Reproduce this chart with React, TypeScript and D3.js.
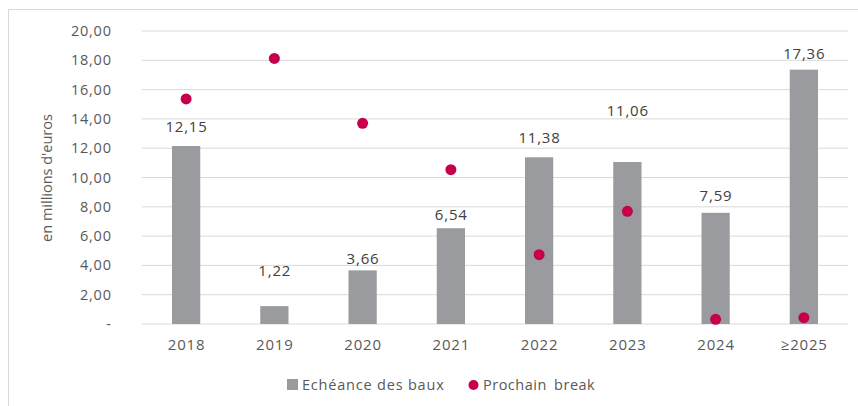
import React from 'react';
import * as d3 from 'd3';

// values
const years = ['2018', '2019', '2020', '2021', '2022', '2023', '2024', '≥2025'];
const echeance = [12.15, 1.22, 3.66, 6.54, 11.38, 11.06, 7.59, 17.36];
const prochainBreak = [15.36, 18.13, 13.7, 10.53, 4.73, 7.69, 0.32, 0.43];
// vertical level (in data units) where each bar label sits
const labelLevels = [13.45, 3.64, 4.46, 7.44, 12.68, 14.56, 8.76, 18.43];
const yTicks = [0, 2, 4, 6, 8, 10, 12, 14, 16, 18, 20];

const W = 858;
const H = 406;
const margin = { top: 31, right: 10, bottom: 82, left: 142 };
const font = "'Open Sans', 'Liberation Sans', sans-serif";
const textColor = '#595959';
const barColor = '#999b9e';
const dotColor = '#c8004b';
const ls = 0.8;

const fmt = (v: number) => (v === 0 ? '-' : v.toFixed(2).replace('.', ','));

const App: React.FC = () => {
  const x = d3.scaleBand<string>()
    .domain(years)
    .range([margin.left, 848])
    .paddingInner(0.68)
    .paddingOuter(0.34);

  const y = d3.scaleLinear()
    .domain([0, 20])
    .range([324, margin.top]);

  const cx = (d: string) => (x(d) as number) + x.bandwidth() / 2;

  return (
    <svg width={W} height={H} style={{ position: 'absolute', left: 0, top: 0, background: '#fff' }}>
      <rect x={8.5} y={9.5} width={W + 10} height={H + 10} fill="none" stroke="#d9d9d9" />

      {/* gridlines + y ticks */}
      {yTicks.map(t => (
        <g key={t}>
          <line x1={margin.left} x2={848} y1={y(t)} y2={y(t)} stroke="#d9d9d9" strokeWidth={1} />
          <text x={111 + ls} y={y(t)} dy="0.35em" textAnchor="end" fontFamily={font} fontSize={14.5}
            letterSpacing={ls} fill={textColor}>
            {fmt(t)}
          </text>
        </g>
      ))}

      <text transform="translate(52,178) rotate(-90)" textAnchor="middle" fontFamily={font} fontSize={14.5} fill={textColor}>
        en millions d'euros
      </text>

      {/* bars */}
      {years.map((d, i) => (
        <rect key={d} x={x(d)} y={y(echeance[i])} width={x.bandwidth()} height={y(0) - y(echeance[i])} fill={barColor} />
      ))}

      {/* bar labels */}
      {years.map((d, i) => (
        <text key={d} x={cx(d) + ls / 2} y={y(labelLevels[i])} dy="0.35em" textAnchor="middle" fontFamily={font}
          fontSize={15} letterSpacing={ls} fill="#404040">
          {fmt(echeance[i])}
        </text>
      ))}

      {/* dots */}
      {years.map((d, i) => (
        <circle key={d} cx={cx(d)} cy={y(prochainBreak[i])} r={5.5} fill={dotColor} />
      ))}

      {/* x labels */}
      {years.map(d => (
        <text key={d} x={cx(d) + ls / 2} y={345} dy="0.35em" textAnchor="middle" fontFamily={font} fontSize={15}
          letterSpacing={ls} fill={textColor}>
          {d}
        </text>
      ))}

      {/* legend */}
      <rect x={287} y={379} width={11} height={11} fill={barColor} />
      <text x={302} y={385} dy="0.35em" fontFamily={font} fontSize={14.5} letterSpacing={ls} fill={textColor}>
        Echéance des baux
      </text>
      <circle cx={473.5} cy={385} r={5} fill={dotColor} />
      <text x={483} y={385} dy="0.35em" fontFamily={font} fontSize={14.5} letterSpacing={0.5} fill={textColor}
        style={{ wordSpacing: '3px' }}>
        Prochain break
      </text>
    </svg>
  );
};

export default App;
